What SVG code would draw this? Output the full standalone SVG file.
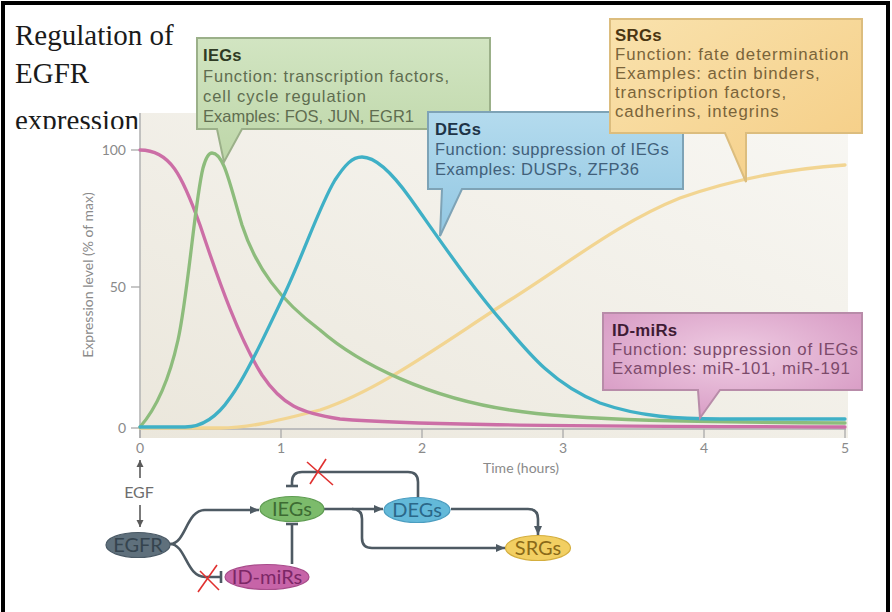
<svg xmlns="http://www.w3.org/2000/svg" width="892" height="612" viewBox="0 0 892 612">
<defs>
<style>
.ax{font-family:Lato,"Liberation Sans",sans-serif;font-size:14px;fill:#8a8a8a}
.tick{stroke:#a9a9a9;stroke-width:1.3}
.curve{fill:none;stroke-width:3.3;stroke-linecap:round}
.ct{font-family:"Liberation Sans",Arial,sans-serif}
.ieg{font-size:16.5px}
.deg{font-size:16.5px;letter-spacing:0.45px}
.srg{font-size:16.8px;letter-spacing:0.95px}
.mir{font-size:16.8px;letter-spacing:0.75px}
.b{font-weight:bold;letter-spacing:0.3px}
.conn{fill:none;stroke:#4e5a63;stroke-width:2.6}
.bar{stroke:#4e5a63;stroke-width:2.6}
.nl{font-family:Lato,"Liberation Sans",sans-serif;font-size:20px;text-anchor:middle}
.x{stroke:#e0302f;stroke-width:1.6}
.box{stroke-width:2}
</style>
<linearGradient id="bg" x1="0" y1="1" x2="1" y2="0">
<stop offset="0" stop-color="#ebe7dc"/><stop offset="1" stop-color="#f8f7f3"/>
</linearGradient>
<linearGradient id="gIEG" x1="0" y1="0" x2="0" y2="1">
<stop offset="0" stop-color="#d2e5c2"/><stop offset="1" stop-color="#bdd6a8"/>
</linearGradient>
<linearGradient id="gDEG" x1="0" y1="0" x2="0" y2="1">
<stop offset="0" stop-color="#b4dbee"/><stop offset="1" stop-color="#92c7e2"/>
</linearGradient>
<linearGradient id="gSRG" x1="0" y1="0" x2="1" y2="1">
<stop offset="0" stop-color="#f9e2ad"/><stop offset="1" stop-color="#f5cd84"/>
</linearGradient>
<radialGradient id="gMIR" cx="0.5" cy="0.4" r="0.6">
<stop offset="0" stop-color="#efcde3"/><stop offset="1" stop-color="#d99ec6"/>
</radialGradient>
<marker id="ah" markerWidth="10" markerHeight="10" refX="9" refY="5" orient="auto" markerUnits="userSpaceOnUse">
<path d="M0,1 L9,5 L0,9 Z" fill="#4e5a63"/>
</marker>
<marker id="ahg" markerWidth="8" markerHeight="8" refX="7" refY="4" orient="auto" markerUnits="userSpaceOnUse">
<path d="M0,0.5 L7,4 L0,7.5 Z" fill="#5a5a5a"/>
</marker>
<clipPath id="tclip"><rect x="0" y="0" width="200" height="129"/></clipPath>
</defs>

<rect x="0" y="0" width="892" height="612" fill="#ffffff"/>

<g id="title" clip-path="url(#tclip)" font-family="'Liberation Serif',serif" font-size="29" fill="#1a1a1a">
<text x="15" y="45">Regulation of</text>
<text x="15" y="83">EGFR</text>
<text x="15" y="130">expression</text>
</g>

<g id="chart">
<rect x="140" y="113" width="708" height="325" fill="url(#bg)"/>
<line x1="140" y1="113" x2="140" y2="438" stroke="#b5b5b5" stroke-width="1.6"/>
<line x1="140" y1="429" x2="846" y2="429" stroke="#bdbdbd" stroke-width="2"/>
<line class="tick" x1="131" y1="150" x2="140" y2="150"/>
<line class="tick" x1="131" y1="287" x2="140" y2="287"/>
<line class="tick" x1="131" y1="428" x2="140" y2="428"/>
<text class="ax" x="126" y="155" text-anchor="end">100</text>
<text class="ax" x="126" y="292" text-anchor="end">50</text>
<text class="ax" x="126" y="433" text-anchor="end">0</text>
<line class="tick" x1="140" y1="429" x2="140" y2="438"/>
<line class="tick" x1="281" y1="429" x2="281" y2="438"/>
<line class="tick" x1="422" y1="429" x2="422" y2="438"/>
<line class="tick" x1="563" y1="429" x2="563" y2="438"/>
<line class="tick" x1="704" y1="429" x2="704" y2="438"/>
<line class="tick" x1="845" y1="429" x2="845" y2="438"/>
<text class="ax" x="140" y="453" text-anchor="middle">0</text>
<text class="ax" x="281" y="453" text-anchor="middle">1</text>
<text class="ax" x="422" y="453" text-anchor="middle">2</text>
<text class="ax" x="563" y="453" text-anchor="middle">3</text>
<text class="ax" x="704" y="453" text-anchor="middle">4</text>
<text class="ax" x="845" y="453" text-anchor="middle">5</text>
<text class="ax" x="521" y="473" text-anchor="middle" font-size="15" fill="#707070">Time (hours)</text>
<text class="ax" transform="translate(93,275) rotate(-90)" text-anchor="middle" font-size="15">Expression level (% of max)</text>

<path id="c-srg" class="curve" stroke="#f2d592" d="M140,428 L220,428 C250,428 280,420 320,410 C380,390 440,345 510,300 C570,262 620,222 680,198 C740,177 800,168 845,165"/>
<path id="c-mir" class="curve" stroke="#cc6ea6" d="M140,150 C170,150 182,175 200,225 C220,285 240,340 262,375 C282,405 300,413 340,419 C400,424 500,426 845,427"/>
<path id="c-ieg" class="curve" stroke="#8dbc7c" d="M140,427 C155,410 168,385 178,340 C188,295 195,200 203,168 C206,157 209,153 212,153 C224,153 230,185 242,225 C256,268 280,300 320,330 C360,365 430,398 510,410 C580,421 700,422 845,423"/>
<path id="c-deg" class="curve" stroke="#3fb0c6" d="M140,427 L185,427 C200,427 215,420 230,398 C245,378 265,335 285,293 C305,250 320,205 335,180 C345,165 352,157 362,157 C375,157 390,170 410,198 C440,240 470,285 505,325 C530,355 555,385 600,403 C640,417 680,419 720,419 L845,419"/>
</g>

<g id="callout-iegs">
<path class="box" d="M197,38 H490 V129 H242 L224,162 L217,129 H197 Z" fill="url(#gIEG)" stroke="#9bb089"/>
<text class="ct ieg b" x="203" y="61" fill="#2f3b24">IEGs</text>
<text class="ct ieg" x="203" y="82" fill="#5f6d50" textLength="246" lengthAdjust="spacing">Function: transcription factors,</text>
<text class="ct ieg" x="203" y="102" fill="#5f6d50" textLength="163" lengthAdjust="spacing">cell cycle regulation</text>
<text class="ct ieg" x="203" y="122" fill="#5f6d50" textLength="211" lengthAdjust="spacing">Examples: FOS, JUN, EGR1</text>
</g>

<g id="callout-degs">
<path class="box" d="M428,112 H683 V189 H462 L440,236 L442,189 H428 Z" fill="url(#gDEG)" stroke="#7ea3b6"/>
<text class="ct deg b" x="435" y="135" fill="#1e3447">DEGs</text>
<text class="ct deg" x="435" y="155" fill="#41607a">Function: suppression of IEGs</text>
<text class="ct deg" x="435" y="175" fill="#41607a">Examples: DUSPs, ZFP36</text>
</g>

<g id="callout-srgs">
<path class="box" d="M610,19 H862 V133 H746 L746,182 L725,133 H610 Z" fill="url(#gSRG)" stroke="#dcbd7e"/>
<text class="ct srg b" x="615" y="41" fill="#4a3512">SRGs</text>
<text class="ct srg" x="615" y="60" fill="#7a643a">Function: fate determination</text>
<text class="ct srg" x="615" y="79" fill="#7a643a">Examples: actin binders,</text>
<text class="ct srg" x="615" y="98" fill="#7a643a">transcription factors,</text>
<text class="ct srg" x="615" y="117" fill="#7a643a">cadherins, integrins</text>
</g>

<g id="callout-idmirs">
<path class="box" d="M603,313 H862 V390 H720 L700,418 L698,390 H603 Z" fill="url(#gMIR)" stroke="#b88ca9"/>
<text class="ct mir b" x="612" y="336" fill="#3f1b35">ID-miRs</text>
<text class="ct mir" x="612" y="355" fill="#7c4a6b">Function: suppression of IEGs</text>
<text class="ct mir" x="612" y="374" fill="#7c4a6b">Examples: miR-101, miR-191</text>
</g>

<g id="egf">
<line x1="140" y1="478" x2="140" y2="460" stroke="#5a5a5a" stroke-width="1.6" marker-end="url(#ahg)"/>
<text x="139" y="498" font-family="Lato,'Liberation Sans',sans-serif" font-size="16" fill="#6e6e6e" text-anchor="middle">EGF</text>
<line x1="140" y1="505" x2="140" y2="527" stroke="#5a5a5a" stroke-width="1.6" marker-end="url(#ahg)"/>
</g>

<g id="connectors">
<path class="conn" d="M170,544 C186,544 186,510 205,510 H259" marker-end="url(#ah)"/>
<path class="conn" d="M170,544 C186,544 186,577 205,577 H220"/>
<line class="bar" x1="221" y1="571" x2="221" y2="583"/>
<path class="conn" d="M292,564 V524"/>
<line class="bar" x1="286" y1="524" x2="298" y2="524"/>
<path class="conn" d="M418,497 V482 Q418,472 408,472 H302 Q292,472 292,482 V486"/>
<line class="bar" x1="286" y1="486" x2="298" y2="486"/>
<path class="conn" d="M324,509 H383" marker-end="url(#ah)"/>
<path class="conn" d="M352,509 Q362,509 362,519 V538 Q362,548 372,548 H505" marker-end="url(#ah)"/>
<path class="conn" d="M451,509 H528 Q538,509 538,519 V535" marker-end="url(#ah)"/>
<line class="x" x1="307" y1="462" x2="333" y2="485"/>
<line class="x" x1="326" y1="459" x2="310" y2="484"/>
<line class="x" x1="198" y1="592" x2="217" y2="565"/>
<line class="x" x1="200" y1="571" x2="219" y2="590"/>
</g>

<g id="node-egfr">
<ellipse cx="138" cy="545" rx="32" ry="12.5" fill="#5f707c" stroke="#4b5a66" stroke-width="1.2"/>
<text class="nl" x="138" y="552" fill="#35444f">EGFR</text>
</g>
<g id="node-iegs">
<ellipse cx="292" cy="509" rx="32" ry="12.5" fill="#7cbb6b" stroke="#5f9d52" stroke-width="1.2"/>
<text class="nl" x="292" y="516" fill="#3d6b33">IEGs</text>
</g>
<g id="node-degs">
<ellipse cx="417" cy="510" rx="33" ry="12.5" fill="#63b9d9" stroke="#4b9dc0" stroke-width="1.2"/>
<text class="nl" x="417" y="517" fill="#2b6889">DEGs</text>
</g>
<g id="node-srgs">
<ellipse cx="538" cy="548" rx="32.5" ry="12.5" fill="#f2cf62" stroke="#d4ae3e" stroke-width="1.2"/>
<text class="nl" x="538" y="555" fill="#8a6a18">SRGs</text>
</g>
<g id="node-idmirs">
<ellipse cx="267" cy="577" rx="42" ry="12.5" fill="#c764a8" stroke="#a84c8b" stroke-width="1.2"/>
<text class="nl" x="267" y="584" fill="#7c2766">ID-miRs</text>
</g>

<path id="frame" d="M3,612 V3 H888 V612" fill="none" stroke="#000" stroke-width="4"/>
</svg>
